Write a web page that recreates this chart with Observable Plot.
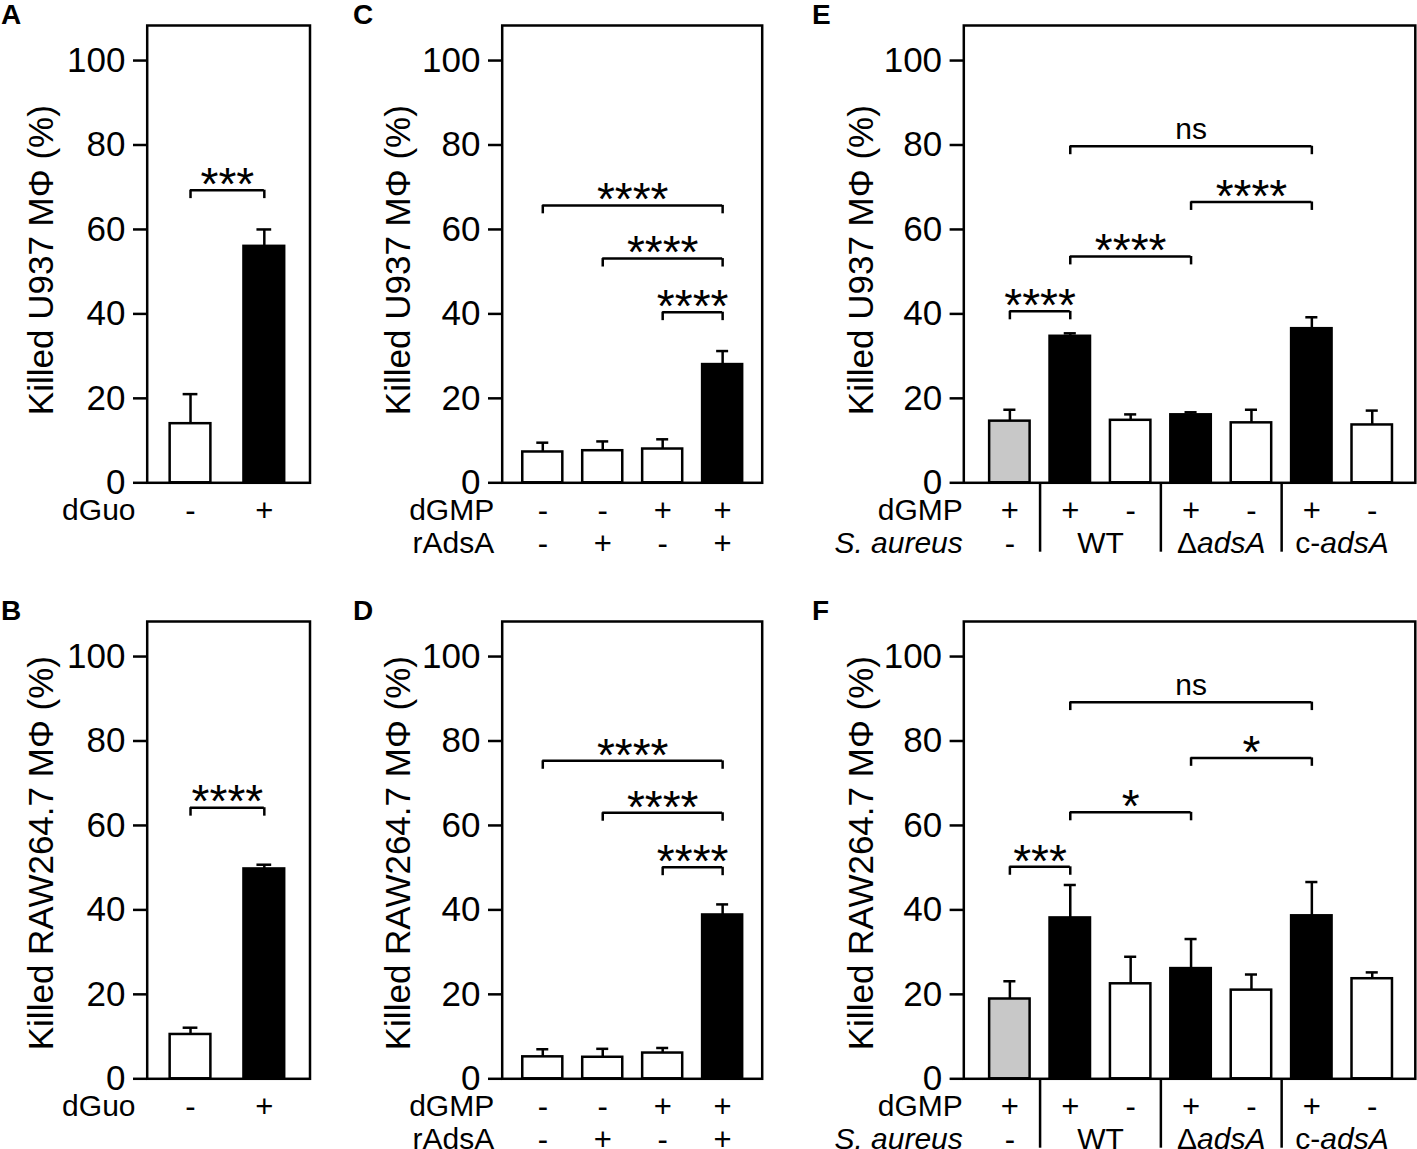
<!DOCTYPE html>
<html>
<head>
<meta charset="utf-8">
<script src="https://cdn.jsdelivr.net/npm/d3@7"></script>
<script src="https://cdn.jsdelivr.net/npm/@observablehq/plot@0.6"></script>
<style>
  body { margin: 0; background: #fff; }
  #fig { position: relative; width: 1417px; height: 1149px; overflow: hidden; background: #fff;
         font-family: "Liberation Sans", Arial, Helvetica, sans-serif; color: #000; }
  .panel { position: absolute; }
  .letter { position: absolute; font-weight: bold; font-size: 28px; line-height: 1; }
</style>
</head>
<body>
<div id="fig"></div>
<script>
// ---------------- data ----------------
const yTicks = [0, 20, 40, 60, 80, 100];

// Panel A (U937) and B (RAW264.7): dGuo
const dGuoRow = ["-", "+"];
const aValues = [14, 56];
const aErrors = [7, 4];
const aKinds = ["open", "solid"];
const aBrackets = [{ a: 0, b: 1, h: 69.3, label: "***" }];

const bValues = [10.5, 49.7];
const bErrors = [1.6, 1.0];
const bKinds = ["open", "solid"];
const bBrackets = [{ a: 0, b: 1, h: 64.2, label: "****" }];

// Panel C (U937) and D (RAW264.7): dGMP / rAdsA
const cdGMPRow = ["-", "-", "+", "+"];
const cdAdsARow = ["-", "+", "-", "+"];
const cValues = [7.3, 7.6, 8.0, 28.0];
const cErrors = [2.2, 2.2, 2.3, 3.2];
const cKinds = ["open", "open", "open", "solid"];
const cBrackets = [
  { a: 0, b: 3, h: 65.7, label: "****" },
  { a: 1, b: 3, h: 53.1, label: "****" },
  { a: 2, b: 3, h: 40.4, label: "****" }
];

const dValues = [5.2, 5.1, 6.1, 38.8];
const dErrors = [1.8, 2.0, 1.2, 2.5];
const dKinds = ["open", "open", "open", "solid"];
const dBrackets = [
  { a: 0, b: 3, h: 75.3, label: "****" },
  { a: 1, b: 3, h: 63.0, label: "****" },
  { a: 2, b: 3, h: 50.1, label: "****" }
];

// Panel E (U937) and F (RAW264.7): dGMP / S. aureus strain
const efGMPRow = ["+", "+", "-", "+", "-", "+", "-"];
const strainPrefix = ["-", "WT", "\u0394", "c-"];
const strainItalic = ["", "", "adsA", "adsA"];
const strainFrom = [0, 1, 3, 5];
const strainTo = [0, 2, 4, 6];
const groupBreaks = [0.5, 2.5, 4.5];

const eValues = [14.6, 34.7, 14.8, 16.1, 14.2, 36.5, 13.7];
const eErrors = [2.7, 0.7, 1.4, 0.6, 3.1, 2.7, 3.4];
const eKinds = ["ref", "solid", "open", "solid", "open", "solid", "open"];
const eBrackets = [
  { a: 0, b: 1, h: 40.6, label: "****" },
  { a: 1, b: 3, h: 53.6, label: "****" },
  { a: 3, b: 5, h: 66.5, label: "****" },
  { a: 1, b: 5, h: 79.7, label: "ns" }
];

const fValues = [18.9, 38.1, 22.5, 26.1, 21.0, 38.6, 23.7];
const fErrors = [4.2, 7.8, 6.4, 7.0, 3.7, 8.0, 1.5];
const fKinds = ["ref", "solid", "open", "solid", "open", "solid", "open"];
const fBrackets = [
  { a: 0, b: 1, h: 50.2, label: "***" },
  { a: 1, b: 3, h: 63.1, label: "*" },
  { a: 3, b: 5, h: 76.0, label: "*" },
  { a: 1, b: 5, h: 89.2, label: "ns" }
];

const yLabelU937 = "Killed U937 M\u03A6 (%)";
const yLabelRAW = "Killed RAW264.7 M\u03A6 (%)";

// ---------------- styling / layout ----------------
const FONT = '"Liberation Sans", Arial, Helvetica, sans-serif';
const INK = "#000";
const FILLS = { open: "#ffffff", solid: "#000000", ref: "#c8c8c8" };
const SW = 2.5;
const CAP = 0.1;
const YTOP = 108.3;
const ROW1 = 28, ROW2 = 61;
const CELL_SIZE = 31, HEAD_SIZE = 30;

const ctx = document.createElement("canvas").getContext("2d");
function textWidth(t, size, style) {
  ctx.font = `${style || "normal"} ${size}px ${FONT}`;
  return ctx.measureText(t).width;
}

const rowsTop = { top: 0, height: 596, mTop: 25, mBottom: 113.7, labelDy: 6 };
const rowsBottom = { top: 596, height: 553, mTop: 25, mBottom: 70.7, labelDy: 3 };
const colA = { left: 0, width: 340, mLeft: 146.7, mRight: 30.5, xDomain: [-0.587, 1.619], half: 0.276, headDx: -11.7, labelDx: -105 };
const colC = { left: 340, width: 440, mLeft: 161.7, mRight: 18.3, xDomain: [-0.677, 3.66], half: 0.334, headDx: -8, labelDx: -103 };
const colE = { left: 780, width: 637, mLeft: 183.3, mRight: 2.2, xDomain: [-0.763, 6.713], half: 0.335, headDx: -1, labelDx: -102 };

function panel(row, col, p) {
  const plotH = row.height - row.mTop - row.mBottom;
  const bars = p.values.map((v, i) => ({ i, v, e: p.errors[i], k: p.kinds[i] }));
  const marks = [];
  for (const k of Object.keys(FILLS)) {
    const sub = bars.filter(d => d.k === k);
    if (!sub.length) continue;
    marks.push(Plot.rectY(sub, {
      x1: d => d.i - col.half, x2: d => d.i + col.half,
      y1: d => 0, y2: d => d.v,
      fill: FILLS[k], stroke: INK, strokeWidth: SW
    }));
  }
  marks.push(
    Plot.ruleX(bars, { x: "i", y1: "v", y2: d => d.v + d.e, stroke: INK, strokeWidth: SW }),
    Plot.ruleY(bars, { x1: d => d.i - CAP, x2: d => d.i + CAP, y: d => d.v + d.e, stroke: INK, strokeWidth: SW }),
    // significance brackets
    Plot.ruleY(p.brackets, { x1: "a", x2: "b", y: "h", stroke: INK, strokeWidth: SW }),
    Plot.ruleX(p.brackets, { x: "a", y1: d => d.h - 2, y2: "h", stroke: INK, strokeWidth: SW }),
    Plot.ruleX(p.brackets, { x: "b", y1: d => d.h - 2, y2: "h", stroke: INK, strokeWidth: SW }),
    Plot.text(p.brackets.filter(d => d.label !== "ns"), {
      x: d => (d.a + d.b) / 2, y: "h", text: "label", fontSize: 46, fill: INK, lineAnchor: "middle", dy: -5
    }),
    Plot.text(p.brackets.filter(d => d.label === "ns"), {
      x: d => (d.a + d.b) / 2, y: "h", text: "label", fontSize: 30, fill: INK, lineAnchor: "middle", dy: -17
    }),
    Plot.frame({ stroke: INK, strokeWidth: SW }),
    Plot.axisY({ ticks: yTicks, tickSize: 13.7, tickPadding: 8, fontSize: 35, label: null,
                 tickFormat: d => String(d), stroke: INK, strokeWidth: SW, fill: INK }),
    Plot.text([p.yLabel], { frameAnchor: "left", text: d => d, rotate: -90, textAnchor: "middle",
                            lineAnchor: "middle", dx: col.labelDx, dy: row.labelDy, fontSize: 35, fill: INK })
  );
  // table rows under the axis
  p.rows.forEach((r, ri) => {
    const dy = ri === 0 ? ROW1 : ROW2;
    marks.push(Plot.text([r.header], {
      frameAnchor: "bottom-left", text: d => d, textAnchor: "end", dx: col.headDx, dy,
      fontSize: HEAD_SIZE, fontStyle: r.italic ? "italic" : "normal", fill: INK, lineAnchor: "middle"
    }));
    if (r.cells) {
      marks.push(Plot.text(r.cells.map((t, i) => ({ i, t })), {
        x: "i", frameAnchor: "bottom", text: "t", dy, fontSize: CELL_SIZE, fill: INK, lineAnchor: "middle"
      }));
    }
    if (r.strains) {
      strainPrefix.forEach((pre, si) => {
        const it = strainItalic[si];
        const center = (strainFrom[si] + strainTo[si]) / 2;
        const size = si === 0 ? CELL_SIZE : HEAD_SIZE;
        if (!it) {
          marks.push(Plot.text([{ c: center, t: pre }], { x: "c", frameAnchor: "bottom", text: "t", dy, fontSize: size, fill: INK, lineAnchor: "middle" }));
        } else {
          const w1 = textWidth(pre, size, "normal");
          const w2 = textWidth(it, size, "italic");
          const shift = -(w1 + w2) / 2 + w1;
          marks.push(Plot.text([{ c: center, t: pre }], { x: "c", frameAnchor: "bottom", text: "t", dy, dx: shift, textAnchor: "end", fontSize: size, fill: INK, lineAnchor: "middle" }));
          marks.push(Plot.text([{ c: center, t: it }], { x: "c", frameAnchor: "bottom", text: "t", dy, dx: shift, textAnchor: "start", fontStyle: "italic", fontSize: size, fill: INK, lineAnchor: "middle" }));
        }
      });
      marks.push(Plot.ruleX(groupBreaks, { x: d => d, insetTop: plotH, insetBottom: -69.4, stroke: INK, strokeWidth: SW }));
    }
  });

  const svg = Plot.plot({
    width: col.width, height: row.height,
    marginTop: row.mTop, marginBottom: row.mBottom, marginLeft: col.mLeft, marginRight: col.mRight,
    x: { domain: col.xDomain, axis: null },
    y: { domain: [0, YTOP], axis: null },
    style: { background: "transparent", overflow: "visible", fontFamily: FONT, color: INK },
    marks
  });
  svg.classList.add("panel");
  svg.style.left = col.left + "px";
  svg.style.top = row.top + "px";
  svg.style.position = "absolute";
  svg.style.maxWidth = "none";
  document.getElementById("fig").appendChild(svg);
}

function letter(t, x, y) {
  const d = document.createElement("div");
  d.className = "letter";
  d.textContent = t;
  d.style.left = x + "px";
  d.style.top = y + "px";
  document.getElementById("fig").appendChild(d);
}

const dGuoRows = [{ header: "dGuo", cells: dGuoRow }];
const cdRows = [{ header: "dGMP", cells: cdGMPRow }, { header: "rAdsA", cells: cdAdsARow }];
const efRows = [{ header: "dGMP", cells: efGMPRow }, { header: "S. aureus", italic: true, strains: true }];

panel(rowsTop, colA, { values: aValues, errors: aErrors, kinds: aKinds, brackets: aBrackets, rows: dGuoRows, yLabel: yLabelU937 });
panel(rowsBottom, colA, { values: bValues, errors: bErrors, kinds: bKinds, brackets: bBrackets, rows: dGuoRows, yLabel: yLabelRAW });
panel(rowsTop, colC, { values: cValues, errors: cErrors, kinds: cKinds, brackets: cBrackets, rows: cdRows, yLabel: yLabelU937 });
panel(rowsBottom, colC, { values: dValues, errors: dErrors, kinds: dKinds, brackets: dBrackets, rows: cdRows, yLabel: yLabelRAW });
panel(rowsTop, colE, { values: eValues, errors: eErrors, kinds: eKinds, brackets: eBrackets, rows: efRows, yLabel: yLabelU937 });
panel(rowsBottom, colE, { values: fValues, errors: fErrors, kinds: fKinds, brackets: fBrackets, rows: efRows, yLabel: yLabelRAW });

letter("A", 1, 1); letter("B", 1, 597);
letter("C", 353, 1); letter("D", 353, 597);
letter("E", 812, 1); letter("F", 812, 597);
</script>
</body>
</html>
